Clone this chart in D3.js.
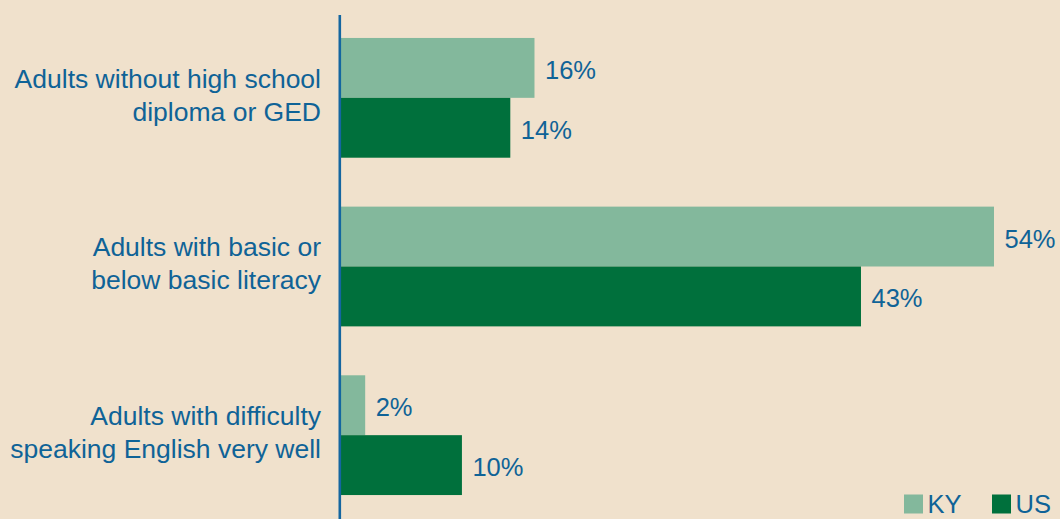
<!DOCTYPE html>
<html>
<head>
<meta charset="utf-8">
<script src="https://cdn.jsdelivr.net/npm/d3@7/dist/d3.min.js"></script>
<style>
  html, body { margin: 0; padding: 0; background: #f0e1cc; }
  svg { display: block; }
  text { font-family: "Liberation Sans", Arial, sans-serif; }
</style>
</head>
<body>
<svg id="chart" width="1060" height="519"></svg>
<script>
// Indicator categories, each split over two lines
const categories = [
  ["Adults without high school", "diploma or GED"],
  ["Adults with basic or", "below basic literacy"],
  ["Adults with difficulty", "speaking English very well"]
];
const seriesNames = ["KY", "US"];
const kyValues = [16, 54, 2];
const usValues = [14, 43, 10];

const colors = { KY: "#83b89c", US: "#00703c" };
const textColor = "#0f6397";
const bg = "#f0e1cc";

const W = 1060, H = 519;
const svg = d3.select("#chart");
svg.append("rect").attr("width", W).attr("height", H).attr("fill", bg);

const rows = categories.map((c, i) => ({
  key: i,
  label: c,
  KY: kyValues[i],
  US: usValues[i]
}));

const y = d3.scaleBand()
  .domain(rows.map(d => d.key))
  .range([13.5, 519.5])
  .paddingInner(0.29)
  .paddingOuter(0.145);

const ySub = d3.scaleBand()
  .domain(seriesNames)
  .range([0, y.bandwidth()]);

const x = d3.scaleLinear()
  .domain([0, 54])
  .range([341, 994]);

const groups = svg.selectAll("g.group")
  .data(rows)
  .join("g")
  .attr("class", "group")
  .attr("transform", d => `translate(0,${y(d.key)})`);

// Bars
groups.selectAll("rect")
  .data(d => seriesNames.map(s => ({ s, v: d[s] })))
  .join("rect")
  .attr("x", x(0))
  .attr("y", d => ySub(d.s))
  .attr("width", d => x(d.v) - x(0))
  .attr("height", ySub.bandwidth())
  .attr("fill", d => colors[d.s]);

// Value labels
groups.selectAll("text.value")
  .data(d => seriesNames.map(s => ({ s, v: d[s] })))
  .join("text")
  .attr("class", "value")
  .attr("x", d => x(d.v) + 10.5)
  .attr("y", d => ySub(d.s) + ySub.bandwidth() / 2 + 11)
  .attr("fill", textColor)
  .attr("font-size", 25.5)
  .text(d => d.v + "%");

// Category labels
groups.append("text")
  .attr("text-anchor", "end")
  .attr("fill", textColor)
  .attr("font-size", 26.5)
  .selectAll("tspan")
  .data(d => d.label)
  .join("tspan")
  .attr("x", 321)
  .attr("y", (t, i) => y.bandwidth() / 2 - 10 + i * 33)
  .text(t => t);

// Vertical axis line
const yAxis = d3.axisLeft(y).tickSize(0).tickFormat("");
svg.append("g")
  .attr("transform", "translate(339.8,0)")
  .call(yAxis)
  .call(g => g.select(".domain")
    .attr("d", `M0,15V${H}`)
    .attr("stroke", "#1466a0")
    .attr("stroke-width", 2.6));

// Legend
const legendItems = [
  { s: "KY", x: 904 },
  { s: "US", x: 992 }
];
const legend = svg.append("g");
legend.selectAll("rect")
  .data(legendItems)
  .join("rect")
  .attr("x", d => d.x)
  .attr("y", 494.5)
  .attr("width", 19)
  .attr("height", 19)
  .attr("fill", d => colors[d.s]);
legend.selectAll("text")
  .data(legendItems)
  .join("text")
  .attr("x", d => d.x + 23.5)
  .attr("y", 513)
  .attr("fill", textColor)
  .attr("font-size", 25.5)
  .text(d => d.s);
</script>
</body>
</html>
